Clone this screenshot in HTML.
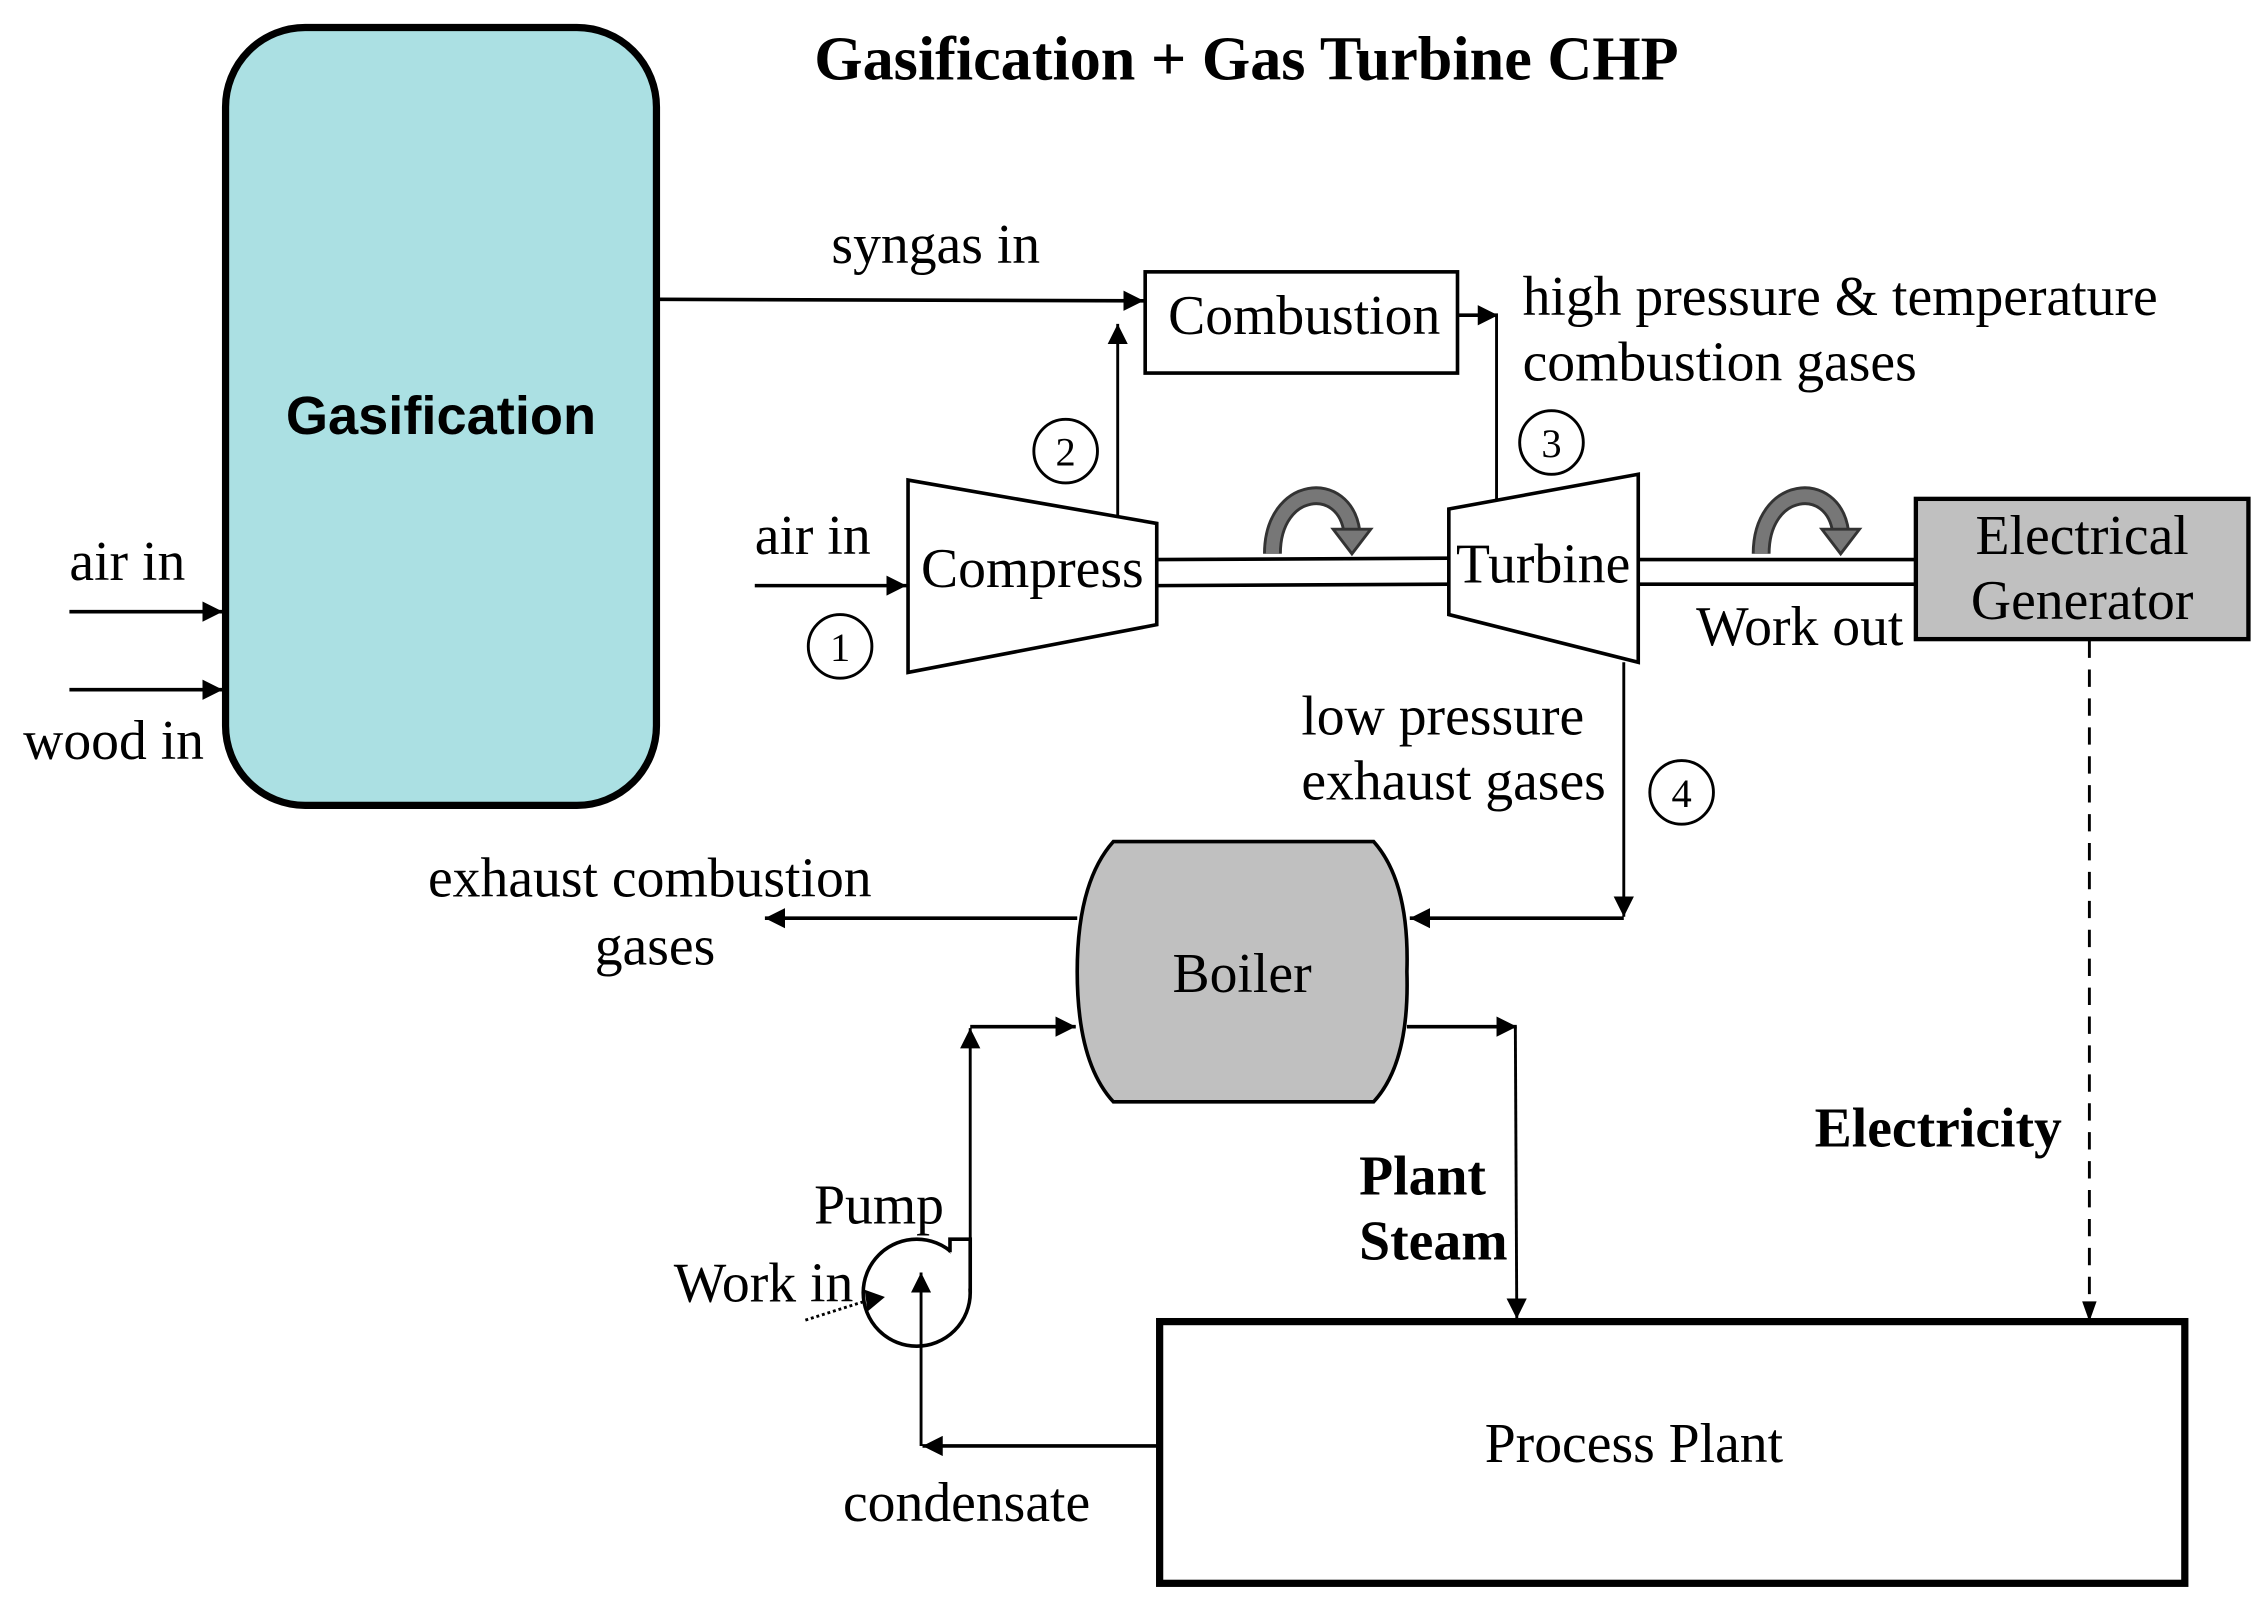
<!DOCTYPE html>
<html><head><meta charset="utf-8"><style>
html,body{margin:0;padding:0;background:#fff;}
svg{display:block;}
text{font-family:"Liberation Serif",serif;fill:#000;}
</style></head><body>
<svg width="2260" height="1603" viewBox="0 0 1563 1108.6" xmlns="http://www.w3.org/2000/svg">
<defs>
<marker id="a" viewBox="0 0 10 10" refX="10" refY="5" markerWidth="14" markerHeight="14" markerUnits="userSpaceOnUse" orient="auto"><path d="M0,0 L10,5 L0,10 z" fill="#000"/></marker>
</defs>
<g stroke="#000" fill="none">
<rect x="156" y="19" width="298" height="538" rx="55" fill="#ABE0E3" stroke-width="5"/>
<line x1="48" y1="423" x2="154" y2="423" stroke-width="2.5" marker-end="url(#a)"/>
<line x1="48" y1="477" x2="154" y2="477" stroke-width="2.5" marker-end="url(#a)"/>
<line x1="455" y1="207" x2="791" y2="208" stroke-width="2.5" marker-end="url(#a)"/>
<rect x="792" y="188" width="216" height="70" stroke-width="2.5"/>
<line x1="773" y1="362" x2="773" y2="224" stroke-width="2" marker-end="url(#a)"/>
<line x1="1008" y1="218" x2="1036" y2="218" stroke-width="2.5" marker-end="url(#a)"/>
<line x1="1035" y1="218" x2="1035" y2="350" stroke-width="2"/>
<polygon points="628,332 800,362 800,432 628,465" fill="#fff" stroke-width="2.5"/>
<line x1="522" y1="405" x2="627" y2="405" stroke-width="2.5" marker-end="url(#a)"/>
<line x1="800" y1="387" x2="1002" y2="386" stroke-width="2.5"/>
<line x1="800" y1="405" x2="1002" y2="404" stroke-width="2.5"/>
<line x1="1133" y1="387" x2="1325" y2="387" stroke-width="2.5"/>
<line x1="1133" y1="404" x2="1325" y2="404" stroke-width="2.5"/>
<polygon points="1002,352 1133,328 1133,458 1002,425" fill="#fff" stroke-width="2.5"/>
<rect x="1325" y="345" width="230" height="97" fill="#C0C0C0" stroke-width="3"/>
<line x1="1445" y1="443" x2="1445" y2="913" stroke-width="2" stroke-dasharray="12,8"/>
<path d="M1440,900 L1450,900 L1445,914 z" fill="#000" stroke="none"/>
<line x1="1123" y1="458" x2="1123" y2="634" stroke-width="2" marker-end="url(#a)"/>
<line x1="1123" y1="635" x2="975" y2="635" stroke-width="2.5" marker-end="url(#a)"/>
<path d="M770,582 L950,582 Q975,610 973,672 Q975,735 950,762 L770,762 Q745,735 745,672 Q745,610 770,582 z" fill="#C0C0C0" stroke-width="2.5"/>
<line x1="745" y1="635" x2="529" y2="635" stroke-width="2.5" marker-end="url(#a)"/>
<line x1="973" y1="710" x2="1049" y2="710" stroke-width="2.5" marker-end="url(#a)"/>
<line x1="1048" y1="710" x2="1049" y2="912" stroke-width="2" marker-end="url(#a)"/>
<rect x="802" y="914" width="709" height="181" stroke-width="5"/>
<circle cx="634" cy="894" r="37" stroke-width="2.5" fill="#fff"/>
<path d="M671,894 L671,857 L657,857 L657,866" stroke-width="2.5" fill="#fff"/>
<line x1="802" y1="1000" x2="638" y2="1000" stroke-width="2.5" marker-end="url(#a)"/>
<line x1="637" y1="1000" x2="637" y2="880" stroke-width="2" marker-end="url(#a)"/>
<line x1="671" y1="894" x2="671" y2="711" stroke-width="2" marker-end="url(#a)"/>
<line x1="671" y1="710" x2="744" y2="710" stroke-width="2.5" marker-end="url(#a)"/>
<line x1="557" y1="913" x2="598" y2="900" stroke-width="2" stroke-dasharray="2,2"/>
<path d="M598,892 L612,897 L600,907 z" fill="#000" stroke="none"/>
<circle cx="737" cy="312" r="22" stroke-width="2"/>
<circle cx="1073" cy="306" r="22" stroke-width="2"/>
<circle cx="581" cy="447" r="22" stroke-width="2"/>
<circle cx="1163" cy="548" r="22" stroke-width="2"/>
<path d="M880,383 C880,335 930,330 935,368" stroke="#333" stroke-width="13"/>
<path d="M880,383 C880,335 930,330 935,368" stroke="#777" stroke-width="9"/>
<path d="M922,366 L948,366 L935,383 z" fill="#777" stroke="#333" stroke-width="2"/>
<path d="M1218,383 C1218,335 1268,330 1273,368" stroke="#333" stroke-width="13"/>
<path d="M1218,383 C1218,335 1268,330 1273,368" stroke="#777" stroke-width="9"/>
<path d="M1260,366 L1286,366 L1273,383 z" fill="#777" stroke="#333" stroke-width="2"/>
</g>
<g font-size="38.5">
<text x="862" y="55" text-anchor="middle" font-weight="bold" font-size="43">Gasification + Gas Turbine  CHP</text>
<text x="305" y="300" text-anchor="middle" font-weight="bold" font-size="37.5" style="font-family:'Liberation Sans',sans-serif">Gasification</text>
<text x="48" y="401">air  in</text>
<text x="16" y="525">wood in</text>
<text x="575" y="182">syngas in</text>
<text x="902" y="231" text-anchor="middle">Combustion</text>
<text x="1053" y="218">high pressure &amp; temperature</text>
<text x="1053" y="263">combustion gases</text>
<text x="522" y="383">air  in</text>
<text x="637" y="406">Compress</text>
<text x="1007" y="403">Turbine</text>
<text x="1440" y="383" text-anchor="middle">Electrical</text>
<text x="1440" y="428" text-anchor="middle">Generator</text>
<text x="1173" y="446">Work out</text>
<text x="900" y="508">low pressure</text>
<text x="900" y="553">exhaust gases</text>
<text x="296" y="620">exhaust combustion</text>
<text x="453" y="667" text-anchor="middle">gases</text>
<text x="859" y="686" text-anchor="middle">Boiler</text>
<text x="940" y="826" font-weight="bold">Plant</text>
<text x="940" y="871" font-weight="bold">Steam</text>
<text x="1255" y="793" font-weight="bold">Electricity</text>
<text x="1130" y="1011" text-anchor="middle">Process Plant</text>
<text x="563" y="846">Pump</text>
<text x="466" y="900">Work in</text>
<text x="583" y="1052">condensate</text>
<g font-size="28" text-anchor="middle">
<text x="737" y="322">2</text>
<text x="1073" y="316">3</text>
<text x="581" y="457">1</text>
<text x="1163" y="558">4</text>
</g>
</g>
</svg>
</body></html>
